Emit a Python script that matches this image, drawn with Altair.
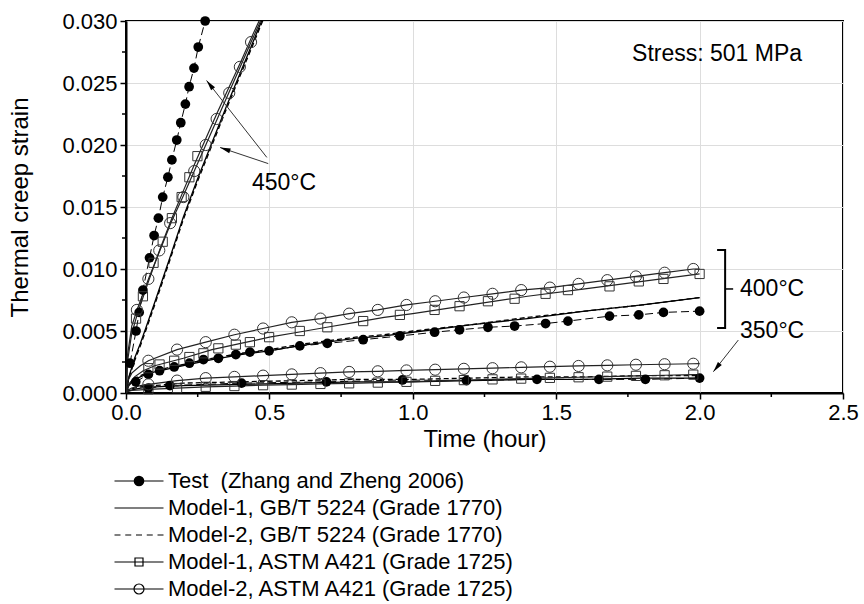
import math
import altair as alt
import pandas as pd

W, H = 717, 372
T_DOMAIN = [0, 2.5]
S_DOMAIN = [0, 0.03]
FONT = "Liberation Sans"

N_TEST = "Test\u00a0 (Zhang and Zheng 2006)"
N_GB1 = "Model-1, GB/T 5224 (Grade 1770)"
N_GB2 = "Model-2, GB/T 5224 (Grade 1770)"
N_A1 = "Model-1, ASTM A421 (Grade 1725)"
N_A2 = "Model-2, ASTM A421 (Grade 1725)"

# ---------------- 450 °C ----------------
t450_test = [0.014, 0.035, 0.046, 0.059, 0.082, 0.098, 0.113, 0.128, 0.146, 0.160, 0.177, 0.191, 0.207, 0.220, 0.237, 0.252, 0.276]
s450_test = [0.0024, 0.0050, 0.0065, 0.0083, 0.0109, 0.0127, 0.0141, 0.0158, 0.0174, 0.0188, 0.0204, 0.0218, 0.0233, 0.0247, 0.0262, 0.0279, 0.0300]

t450_gb = [0, 0.01, 0.03, 0.05, 0.07, 0.10, 0.15, 0.20, 0.25, 0.30, 0.35, 0.40, 0.45, 0.48]
s450_gb1 = [0, 0.0013, 0.0028, 0.0040, 0.0053, 0.0073, 0.0107, 0.0142, 0.0173, 0.0202, 0.0231, 0.0259, 0.0287, 0.0304]
s450_gb2 = [0, 0.0012, 0.0026, 0.0038, 0.0051, 0.0071, 0.0105, 0.0140, 0.0171, 0.0200, 0.0229, 0.0257, 0.0285, 0.0302]

t450_a1 = [0, 0.005, 0.02, 0.04, 0.08, 0.12, 0.16, 0.20, 0.24, 0.28, 0.32, 0.36, 0.40, 0.44, 0.47]
s450_a1 = [0, 0.0025, 0.0048, 0.0064, 0.0091, 0.0117, 0.0141, 0.0163, 0.0185, 0.0206, 0.0227, 0.0247, 0.0267, 0.0288, 0.0303]
t450_a1m = [0.035, 0.059, 0.096, 0.128, 0.160, 0.194, 0.221, 0.249]
s450_a1m = [0.0060, 0.0078, 0.0105, 0.0122, 0.0141, 0.0158, 0.0174, 0.0191]

t450_a2 = [0, 0.005, 0.02, 0.04, 0.08, 0.12, 0.16, 0.20, 0.24, 0.28, 0.32, 0.36, 0.40, 0.44, 0.475]
s450_a2 = [0, 0.0030, 0.0054, 0.0068, 0.0093, 0.0116, 0.0139, 0.0159, 0.0180, 0.0201, 0.0222, 0.0243, 0.0264, 0.0285, 0.0303]
t450_a2m = [0.038, 0.078, 0.116, 0.154, 0.200, 0.238, 0.278, 0.316, 0.360, 0.397, 0.436]
s450_a2m = [0.0067, 0.0092, 0.0115, 0.0137, 0.0158, 0.0179, 0.0200, 0.0221, 0.0242, 0.0263, 0.0283]

# ---------------- 400 °C ----------------
t400_test = [0.034, 0.078, 0.117, 0.168, 0.221, 0.270, 0.322, 0.383, 0.432, 0.499, 0.606, 0.702, 0.827, 0.955, 1.076, 1.163, 1.262, 1.355, 1.463, 1.541, 1.686, 1.788, 1.874, 2.0]
s400_test = [0.0009, 0.0015, 0.0018, 0.0021, 0.0024, 0.0027, 0.0028, 0.0031, 0.0033, 0.0034, 0.0038, 0.0040, 0.0043, 0.0046, 0.0049, 0.0051, 0.0053, 0.0054, 0.0056, 0.0058, 0.0062, 0.0063, 0.0065, 0.0066]

t400_gb = [0, 0.01, 0.03, 0.06, 0.1, 0.2, 0.3, 0.4, 0.5, 0.6, 0.7, 0.8, 0.9, 1.0, 1.2, 1.4, 1.6, 1.8, 2.0]
s400_gb1 = [0, 0.0006, 0.0011, 0.0014, 0.0017, 0.0022, 0.0027, 0.0031, 0.0034, 0.0038, 0.0041, 0.0044, 0.0046, 0.0049, 0.0055, 0.0060, 0.0066, 0.0071, 0.0077]
s400_gb2 = [0, 0.0007, 0.0012, 0.0015, 0.0018, 0.0023, 0.0028, 0.0032, 0.0035, 0.0039, 0.0042, 0.0045, 0.0047, 0.0050, 0.0055, 0.0061, 0.0066, 0.0071, 0.0077]

t400_a1 = [0, 0.01, 0.03, 0.06, 0.1, 0.2, 0.3, 0.4, 0.5, 0.6, 0.7, 0.8, 0.9, 1.0, 1.2, 1.4, 1.6, 1.8, 2.0]
s400_a1 = [0, 0.0007, 0.0013, 0.0018, 0.0022, 0.0028, 0.0035, 0.0040, 0.0045, 0.0049, 0.0053, 0.0057, 0.0061, 0.0064, 0.0071, 0.0078, 0.0084, 0.0090, 0.0096]
t400_a1m = [0.078, 0.117, 0.168, 0.221, 0.270, 0.322, 0.383, 0.432, 0.499, 0.606, 0.702, 0.827, 0.955, 1.076, 1.163, 1.262, 1.355, 1.463, 1.541, 1.686, 1.788, 1.874, 2.0]
s400_a1m = [0.0020, 0.0023, 0.0026, 0.0029, 0.0032, 0.0036, 0.0039, 0.0041, 0.0045, 0.0050, 0.0053, 0.0058, 0.0063, 0.0067, 0.0070, 0.0074, 0.0076, 0.0080, 0.0083, 0.0086, 0.0090, 0.0092, 0.0096]

t400_a2 = [0, 0.005, 0.02, 0.05, 0.078, 0.178, 0.278, 0.378, 0.478, 0.578, 0.678, 0.778, 0.878, 0.978, 1.078, 1.178, 1.278, 1.378, 1.478, 1.578, 1.678, 1.778, 1.878, 1.978, 2.0]
s400_a2 = [0, 0.0009, 0.0016, 0.0022, 0.0026, 0.0035, 0.0041, 0.0047, 0.0052, 0.0057, 0.0060, 0.0064, 0.0067, 0.0071, 0.0074, 0.0077, 0.0080, 0.0083, 0.0085, 0.0088, 0.0091, 0.0094, 0.0097, 0.0100, 0.0100]
t400_a2m = [0.078, 0.178, 0.278, 0.378, 0.478, 0.578, 0.678, 0.778, 0.878, 0.978, 1.078, 1.178, 1.278, 1.378, 1.478, 1.578, 1.678, 1.778, 1.878, 1.978]
s400_a2m = [0.0026, 0.0035, 0.0041, 0.0047, 0.0052, 0.0057, 0.0060, 0.0064, 0.0067, 0.0071, 0.0074, 0.0077, 0.0080, 0.0083, 0.0085, 0.0088, 0.0091, 0.0094, 0.0097, 0.0100]

# ---------------- 350 °C ----------------
t350_test = [0.078, 0.153, 0.403, 0.699, 0.964, 1.187, 1.433, 1.649, 1.811, 2.0]
s350_test = [0.0004, 0.0006, 0.0008, 0.0009, 0.00105, 0.0010, 0.0011, 0.0011, 0.0011, 0.0012]

t350_gb = [0, 0.01, 0.05, 0.1, 0.2, 0.4, 0.6, 0.8, 1.0, 1.2, 1.4, 1.6, 1.8, 2.0]
s350_gb1 = [0, 0.0002, 0.0004, 0.0005, 0.0006, 0.0007, 0.0008, 0.0009, 0.0009, 0.0010, 0.0011, 0.0011, 0.0012, 0.0012]
s350_gb2 = [0, 0.0003, 0.0005, 0.0006, 0.0008, 0.0009, 0.0010, 0.0011, 0.0011, 0.0012, 0.0013, 0.0013, 0.0014, 0.0014]

t350_m = [0.078, 0.178, 0.278, 0.378, 0.478, 0.578, 0.678, 0.778, 0.878, 0.978, 1.078, 1.178, 1.278, 1.378, 1.478, 1.578, 1.678, 1.778, 1.878, 1.978]
t350_a = [0, 0.005, 0.02, 0.05, 0.078, 0.178, 0.278, 0.378, 0.478, 0.578, 0.678, 0.778, 0.878, 0.978, 1.078, 1.178, 1.278, 1.378, 1.478, 1.578, 1.678, 1.778, 1.878, 1.978, 2.0]
s350_a1m = [0.0003, 0.0004, 0.0005, 0.00056, 0.00063, 0.00068, 0.00073, 0.00078, 0.00084, 0.0009, 0.00098, 0.00104, 0.0011, 0.00116, 0.00122, 0.00127, 0.00132, 0.00138, 0.00143, 0.00148]
s350_a1 = [0, 0.0001, 0.0002, 0.00025, 0.0003, 0.0004, 0.0005, 0.00056, 0.00063, 0.00068, 0.00073, 0.00078, 0.00084, 0.0009, 0.00098, 0.00104, 0.0011, 0.00116, 0.00122, 0.00127, 0.00132, 0.00138, 0.00143, 0.00148, 0.00149]
s350_a2m = [0.0007, 0.0010, 0.0012, 0.0013, 0.0014, 0.0015, 0.0016, 0.0017, 0.00175, 0.00182, 0.00188, 0.00195, 0.0020, 0.00207, 0.00212, 0.00218, 0.00223, 0.00228, 0.00232, 0.00236]
s350_a2 = [0, 0.0002, 0.0004, 0.0006, 0.0007, 0.0010, 0.0012, 0.0013, 0.0014, 0.0015, 0.0016, 0.0017, 0.00175, 0.00182, 0.00188, 0.00195, 0.0020, 0.00207, 0.00212, 0.00218, 0.00223, 0.00228, 0.00232, 0.00236, 0.00237]

# ---------------- annotations ----------------
txt_c_label = ["450°C", "Stress: 501 MPa"]
txt_c_t = [0.551, 2.061]
txt_c_s = [0.0169, 0.0273]
txt_l_label = ["400°C", "350°C"]
txt_l_t = [2.141, 2.141]
txt_l_s = [0.00839, 0.0050]

arrow_t0 = [0.491, 0.496, 2.135]
arrow_s0 = [0.0190, 0.0185, 0.00427]
arrow_t1 = [0.281, 0.328, 2.048]
arrow_s1 = [0.0252, 0.0198, 0.00172]

bracket_t = [2.061, 2.089, 2.089, 2.061]
bracket_s = [0.01153, 0.01153, 0.00524, 0.00524]
bracket_tick_t = [2.089, 2.117]
bracket_tick_s = [0.00839, 0.00839]

x_major = [0, 0.5, 1.0, 1.5, 2.0, 2.5]
y_major = [0, 0.005, 0.010, 0.015, 0.020, 0.025, 0.030]
x_minor = [0.25, 0.75, 1.25, 1.75, 2.25]
y_minor = [0.0025, 0.0075, 0.0125, 0.0175, 0.0225, 0.0275]


def frame(temp, name, ts, ss):
    return pd.DataFrame({"t": ts, "s": ss, "key": f"{temp}-{name}", "i": list(range(len(ts)))})


test_lines = pd.concat([frame(450, N_TEST, t450_test, s450_test),
                        frame(400, N_TEST, t400_test, s400_test),
                        frame(350, N_TEST, t350_test, s350_test)])
gb1_lines = pd.concat([frame(450, N_GB1, t450_gb, s450_gb1),
                       frame(400, N_GB1, t400_gb, s400_gb1),
                       frame(350, N_GB1, t350_gb, s350_gb1)])
gb2_lines = pd.concat([frame(450, N_GB2, t450_gb, s450_gb2),
                       frame(400, N_GB2, t400_gb, s400_gb2),
                       frame(350, N_GB2, t350_gb, s350_gb2)])
a1_lines = pd.concat([frame(450, N_A1, t450_a1, s450_a1),
                      frame(400, N_A1, t400_a1, s400_a1),
                      frame(350, N_A1, t350_a, s350_a1)])
a2_lines = pd.concat([frame(450, N_A2, t450_a2, s450_a2),
                      frame(400, N_A2, t400_a2, s400_a2),
                      frame(350, N_A2, t350_a, s350_a2)])
a1_marks = pd.concat([frame(450, N_A1, t450_a1m, s450_a1m),
                      frame(400, N_A1, t400_a1m, s400_a1m),
                      frame(350, N_A1, t350_m, s350_a1m)])
a2_marks = pd.concat([frame(450, N_A2, t450_a2m, s450_a2m),
                      frame(400, N_A2, t400_a2m, s400_a2m),
                      frame(350, N_A2, t350_m, s350_a2m)])

xaxis = alt.Axis(values=x_major, format=".1f", grid=True, tickSize=6, labelPadding=3,
                 labelFlush=False, titleY=46, titleBaseline="middle")
yaxis = alt.Axis(values=y_major, format=".3f", grid=True, tickSize=6, labelPadding=3,
                 labelFlush=False, titleX=-106, titleBaseline="middle")
X = alt.X("t:Q", scale=alt.Scale(domain=T_DOMAIN, nice=False, zero=False), axis=xaxis, title="Time (hour)")
Y = alt.Y("s:Q", scale=alt.Scale(domain=S_DOMAIN, nice=False, zero=False), axis=yaxis, title="Thermal creep strain")


def line_layer(df, dash=None, width=1.2, color="black"):
    kw = dict(color=color, strokeWidth=width, clip=True)
    if dash:
        kw["strokeDash"] = dash
    return alt.Chart(df).mark_line(**kw).encode(x=X, y=Y, detail="key:N", order="i:Q")


layers = []
layers.append(line_layer(test_lines, dash=[8, 4], width=1.0))
layers.append(line_layer(gb1_lines, width=1.3))
layers.append(line_layer(gb2_lines, dash=[5, 3], width=1.3))
layers.append(line_layer(a1_lines, width=1.2, color="#222222"))
layers.append(line_layer(a2_lines, width=1.2, color="#222222"))

layers.append(alt.Chart(test_lines).mark_point(shape="circle", filled=True, size=95, color="black", opacity=1)
              .encode(x=X, y=Y))
layers.append(alt.Chart(a1_marks).mark_point(shape="square", filled=False, size=85, color="#333333",
                                             strokeWidth=1, opacity=1).encode(x=X, y=Y))
layers.append(alt.Chart(a2_marks).mark_point(shape="circle", filled=False, size=125, color="#333333",
                                             strokeWidth=1, opacity=1).encode(x=X, y=Y))

# minor ticks (outward)
layers.append(alt.Chart(pd.DataFrame({"t": x_minor})).mark_rule(color="black", strokeWidth=1.5)
              .encode(x=X, y=alt.value(H), y2=alt.value(H + 4)))
layers.append(alt.Chart(pd.DataFrame({"s": y_minor})).mark_rule(color="black", strokeWidth=1.5)
              .encode(y=Y, x=alt.value(0), x2=alt.value(-4)))

# annotations
arrows = pd.DataFrame({"t": arrow_t0, "s": arrow_s0, "t2": arrow_t1, "s2": arrow_s1})
layers.append(alt.Chart(arrows).mark_rule(color="#333333", strokeWidth=1)
              .encode(x=X, y=Y, x2="t2:Q", y2="s2:Q"))
px_t = W / (T_DOMAIN[1] - T_DOMAIN[0])
px_s = H / (S_DOMAIN[1] - S_DOMAIN[0])
heads = pd.DataFrame({
    "t": arrow_t1,
    "s": arrow_s1,
    "ang": [math.degrees(math.atan2((b - a) * px_t, (d - c) * px_s)) % 360
            for a, b, c, d in zip(arrow_t0, arrow_t1, arrow_s0, arrow_s1)],
})
layers.append(alt.Chart(heads).mark_point(shape="M0,0L-0.5,2.1L0.5,2.1Z", filled=True, size=100,
                                          color="black", opacity=1)
              .encode(x=X, y=Y, angle=alt.Angle("ang:Q", scale=None)))

bracket = pd.DataFrame({"t": bracket_t, "s": bracket_s, "i": list(range(len(bracket_t)))})
layers.append(alt.Chart(bracket).mark_line(color="black", strokeWidth=2).encode(x=X, y=Y, order="i:Q"))
btick = pd.DataFrame({"t": bracket_tick_t, "s": bracket_tick_s, "i": [0, 1]})
layers.append(alt.Chart(btick).mark_line(color="black", strokeWidth=1.5).encode(x=X, y=Y, order="i:Q"))

layers.append(alt.Chart(pd.DataFrame({"t": txt_c_t, "s": txt_c_s, "label": txt_c_label}))
              .mark_text(align="center", baseline="middle", font=FONT, fontSize=23, color="black")
              .encode(x=X, y=Y, text="label:N"))
layers.append(alt.Chart(pd.DataFrame({"t": txt_l_t, "s": txt_l_s, "label": txt_l_label}))
              .mark_text(align="left", baseline="middle", font=FONT, fontSize=23, color="black")
              .encode(x=X, y=Y, text="label:N"))

# legend (symbols drawn as custom paths: line + marker)
names = [N_TEST, N_GB1, N_GB2, N_A1, N_A2]
line_path = "M-4.9,0H4.9"
def circ(r):
    return f"M{r},0A{r},{r},0,1,1,{-r},0A{r},{r},0,1,1,{r},0Z"
paths = [
    line_path + "".join(circ(r) for r in (0.95, 0.75, 0.55, 0.35, 0.15)),
    line_path,
    "M-4.9,0H-3.7M-2.75,0H-1.55M-0.6,0H0.6M1.55,0H2.75M3.7,0H4.9",
    line_path + "M-0.8,-0.8H0.8V0.8H-0.8Z",
    line_path + circ(1.0),
]
legend = alt.Legend(orient="none", legendX=2, legendY=449, title=None, labelFont=FONT,
                    labelFontSize=22, labelColor="black", labelLimit=700, labelOffset=18,
                    symbolSize=100, symbolStrokeWidth=1.2, symbolStrokeColor="black",
                    symbolFillColor="transparent", symbolOpacity=1, rowPadding=5, padding=0,
                    direction="vertical")
layers.append(alt.Chart(pd.DataFrame({"name": names})).mark_point(opacity=0, color="black")
              .encode(shape=alt.Shape("name:N", scale=alt.Scale(domain=names, range=paths), legend=legend)))

chart = alt.layer(*layers).properties(
    width=W, height=H,
    autosize=alt.AutoSizeParams(type="none"),
    padding={"left": 126, "top": 21, "right": 21, "bottom": 211},
).configure_view(stroke="black", strokeWidth=2).configure_axis(
    domainColor="black", domainWidth=2, tickColor="black", tickWidth=1.5,
    labelFont=FONT, labelFontSize=22, labelColor="black",
    titleFont=FONT, titleFontSize=24, titleFontWeight="normal", titleColor="black",
    gridColor="#dddddd", gridWidth=1,
)

chart.save("out.html", embed_options={"renderer": "svg", "actions": False})
